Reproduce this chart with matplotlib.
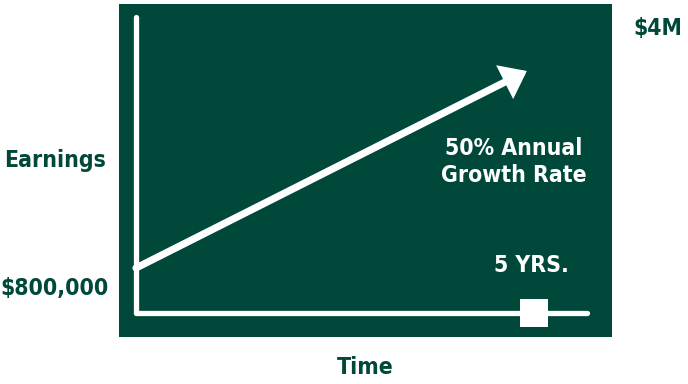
import matplotlib
matplotlib.use('Agg')
import matplotlib.pyplot as plt
from matplotlib.patches import FancyArrowPatch

# data (years, earnings in $M)
years = [0, 5]
earnings = [0.8, 4.0]
start_label = "$800,000"
end_label = "$4M"
y_label = "Earnings"
x_label = "Time"
rate_label = "50% Annual\nGrowth Rate"
period_label = "5 YRS."

GREEN = '#00493a'
W, H = 688, 384
FONT = ['Liberation Sans Narrow', 'DejaVu Sans Condensed', 'DejaVu Sans']

fig = plt.figure(figsize=(W / 100, H / 100), dpi=100)

def fx(px):
    return px / W

def fy(py):
    return 1 - py / H

# green panel from x=119..612, y=4..337 px
ax = fig.add_axes([fx(119), fy(337), fx(612) - fx(119), fy(4) - fy(337)])
ax.set_facecolor(GREEN)
for s in ax.spines.values():
    s.set_visible(False)
ax.set_xticks([])
ax.set_yticks([])
ax.set_xlim(-0.214, 5.98)
ax.set_ylim(-0.321, 5.088)

# axes lines
y_axis_bottom = 0.069
ax.plot([0, 0], [y_axis_bottom, 4.877], color='white', lw=3.8,
        solid_capstyle='round')
ax.plot([0, 5.666], [y_axis_bottom, y_axis_bottom], color='white', lw=3.8,
        solid_capstyle='round')

# growth arrow
arr = FancyArrowPatch((years[0], earnings[0]), (years[1] - 0.09, earnings[1]),
                      arrowstyle='-|>,head_length=0.55,head_width=0.42',
                      mutation_scale=20, color='white', lw=5.2,
                      shrinkA=0, shrinkB=0, joinstyle='miter')
ax.add_patch(arr)

# 5 year marker
ax.scatter([years[1]], [y_axis_bottom], marker='s', s=400, color='white',
           zorder=5, linewidths=0)

txt = dict(fontweight='bold', fontsize=16.5, family=FONT, fontstretch='condensed')
ax.text(fx(514), fy(162), rate_label, transform=fig.transFigure, color='white',
        ha='center', va='center', linespacing=1.25, **txt)
ax.text(fx(531), fy(266), period_label, transform=fig.transFigure,
        color='white', ha='center', va='center', **txt)

fig.text(fx(658), fy(29), end_label, color=GREEN, ha='center', va='center', **txt)
fig.text(fx(55), fy(161), y_label, color=GREEN, ha='center', va='center', **txt)
fig.text(fx(55), fy(288), start_label, color=GREEN, ha='center', va='center', **txt)
fig.text(fx(365), fy(368), x_label, color=GREEN, ha='center', va='center', **txt)

fig.savefig('out.png', dpi=100, facecolor='white')
